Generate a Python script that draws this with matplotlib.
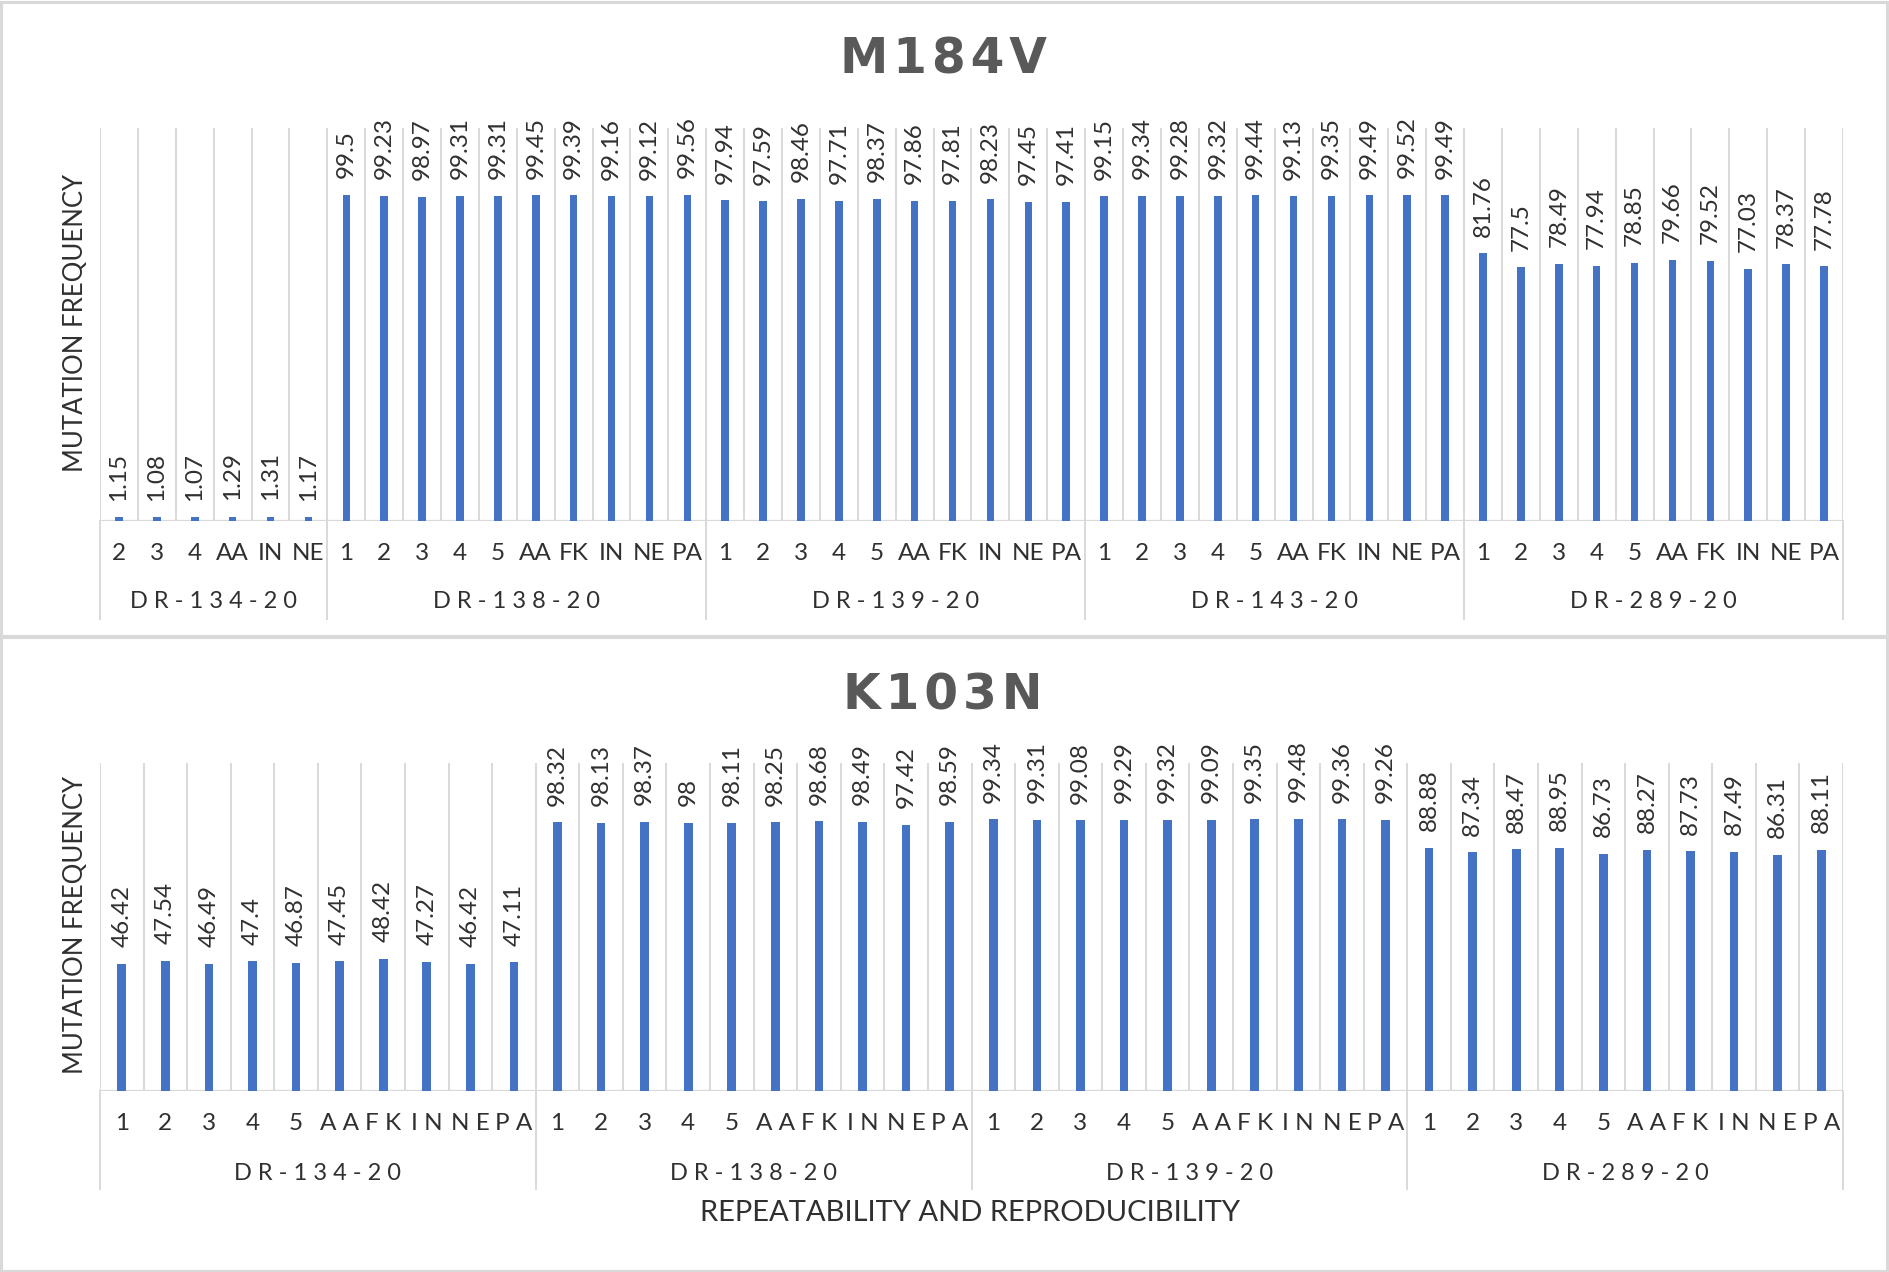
import matplotlib
matplotlib.use("Agg")
import matplotlib.pyplot as plt
from matplotlib.patches import Rectangle

plt.rcParams["font.family"] = ["Lato", "DejaVu Sans"]

# M184V panel
m184_groups = ["DR-134-20", "DR-138-20", "DR-139-20", "DR-143-20", "DR-289-20"]
m184_ticks = [
    ["2", "3", "4", "AA", "IN", "NE"],
    ["1", "2", "3", "4", "5", "AA", "FK", "IN", "NE", "PA"],
    ["1", "2", "3", "4", "5", "AA", "FK", "IN", "NE", "PA"],
    ["1", "2", "3", "4", "5", "AA", "FK", "IN", "NE", "PA"],
    ["1", "2", "3", "4", "5", "AA", "FK", "IN", "NE", "PA"],
]
m184_dr134 = [1.15, 1.08, 1.07, 1.29, 1.31, 1.17]
m184_dr138 = [99.5, 99.23, 98.97, 99.31, 99.31, 99.45, 99.39, 99.16, 99.12, 99.56]
m184_dr139 = [97.94, 97.59, 98.46, 97.71, 98.37, 97.86, 97.81, 98.23, 97.45, 97.41]
m184_dr143 = [99.15, 99.34, 99.28, 99.32, 99.44, 99.13, 99.35, 99.49, 99.52, 99.49]
m184_dr289 = [81.76, 77.5, 78.49, 77.94, 78.85, 79.66, 79.52, 77.03, 78.37, 77.78]

# K103N panel
k103_groups = ["DR-134-20", "DR-138-20", "DR-139-20", "DR-289-20"]
k103_ticks = [["1", "2", "3", "4", "5", "A A", "F K", "I N", "N E", "P A"]] * 4
k103_dr134 = [46.42, 47.54, 46.49, 47.4, 46.87, 47.45, 48.42, 47.27, 46.42, 47.11]
k103_dr138 = [98.32, 98.13, 98.37, 98, 98.11, 98.25, 98.68, 98.49, 97.42, 98.59]
k103_dr139 = [99.34, 99.31, 99.08, 99.29, 99.32, 99.09, 99.35, 99.48, 99.36, 99.26]
k103_dr289 = [88.88, 87.34, 88.47, 88.95, 86.73, 88.27, 87.73, 87.49, 86.31, 88.11]

BLUE = "#4472C4"
GRID = "#D9D9D9"
TXT = "#303030"
W, H = 1889, 1272


def spaced(s):
    return " ".join(s)


def draw_panel(ax, groups, ticks, values, tick_y, group_y, line_y):
    vals = [v for g in values for v in g]
    labels = [t for g in ticks for t in g]
    n = len(vals)
    xs = list(range(n))
    ax.bar(xs, vals, width=0.2, color=BLUE, zorder=3)
    for x, v in zip(xs, vals):
        ax.annotate(f"{v:g}", (x, v), xytext=(0, 12), textcoords="offset points",
                    rotation=90, ha="center", va="bottom", fontsize=17.5, color=TXT)
    ax.set_xlim(-0.5, n - 0.5)
    ax.set_ylim(0, 120)
    ax.vlines([i - 0.5 for i in range(n + 1)], 0, 120, color=GRID, lw=1.4, zorder=1)
    ax.axhline(0, color=GRID, lw=1.6, zorder=2)
    tr = ax.get_xaxis_transform()
    for x, lab in zip(xs, labels):
        ax.text(x, tick_y, lab, transform=tr, ha="center", va="center",
                fontsize=17.5, color=TXT)
    start = 0
    bounds = [-0.5]
    for g, gv in zip(groups, values):
        mid = start + (len(gv) - 1) / 2
        ax.text(mid, group_y, spaced(g), transform=tr, ha="center", va="center",
                fontsize=17, color=TXT)
        start += len(gv)
        bounds.append(start - 0.5)
    for b in bounds:
        ax.plot([b, b], [0, line_y], transform=tr, color=GRID, lw=1.4, clip_on=False)
    ax.axis("off")


fig = plt.figure(figsize=(W / 100, H / 100), dpi=100)

# chart frames
fig.add_artist(Rectangle((1 / W, 1 - 636 / H), 1 - 3 / W, 634 / H, transform=fig.transFigure,
                         fill=False, ec=GRID, lw=2.2))
fig.add_artist(Rectangle((1 / W, 1 / H), 1 - 3 / W, 1 - 638 / H, transform=fig.transFigure,
                         fill=False, ec=GRID, lw=2.2))

left = 100 / W
width = (1843 - 100) / W

ax1 = fig.add_axes([left, 1 - 521 / H, width, 393 / H])
draw_panel(ax1, m184_groups, m184_ticks,
           [m184_dr134, m184_dr138, m184_dr139, m184_dr143, m184_dr289],
           tick_y=-32 / 393, group_y=-81 / 393, line_y=-98 / 393)

ax2 = fig.add_axes([left, 1 - 1091 / H, width, 328 / H])
draw_panel(ax2, k103_groups, k103_ticks,
           [k103_dr134, k103_dr138, k103_dr139, k103_dr289],
           tick_y=-32 / 328, group_y=-82 / 328, line_y=-98 / 328)

title_kw = dict(ha="center", va="center", fontsize=35, fontweight="bold",
                color="#595959", family="DejaVu Sans")
fig.text(943 / W, 1 - 59 / H, "\u200a".join("M184V"), **title_kw)
fig.text(943 / W, 1 - 695 / H, "\u200a".join("K103N"), **title_kw)

fig.text(76 / W, 1 - 323 / H, "MUTATION FREQUENCY", rotation=90, ha="center", va="center",
         fontsize=18.5, color=TXT)
fig.text(76 / W, 1 - 925 / H, "MUTATION FREQUENCY", rotation=90, ha="center", va="center",
         fontsize=18.5, color=TXT)
fig.text(970 / W, 1 - 1213 / H, "REPEATABILITY AND REPRODUCIBILITY", ha="center", va="center",
         fontsize=21, color=TXT)

fig.savefig("out.png", dpi=100)
